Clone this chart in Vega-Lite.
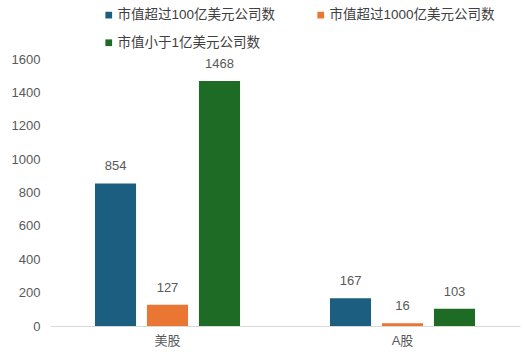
{
  "$schema": "https://vega.github.io/schema/vega-lite/v6.json",
  "width": 470,
  "height": 267,
  "autosize": {"type": "none"},
  "padding": {"left": 50, "top": 59, "right": 3, "bottom": 31},
  "background": "white",
  "config": {
    "view": {"stroke": null},
    "font": "Liberation Sans, Noto Sans CJK SC",
    "text": {"font": "Liberation Sans, Noto Sans CJK SC"}
  },
  "data": {
    "values": [
      {"market": "美股", "series": "市值超过100亿美元公司数", "value": 854},
      {"market": "美股", "series": "市值超过1000亿美元公司数", "value": 127},
      {"market": "美股", "series": "市值小于1亿美元公司数", "value": 1468},
      {"market": "A股", "series": "市值超过100亿美元公司数", "value": 167},
      {"market": "A股", "series": "市值超过1000亿美元公司数", "value": 16},
      {"market": "A股", "series": "市值小于1亿美元公司数", "value": 103}
    ]
  },
  "encoding": {
    "x": {
      "field": "market", "type": "nominal", "sort": ["美股", "A股"],
      "scale": {"paddingInner": 0, "paddingOuter": 0},
      "axis": {"title": null, "labelAngle": 0, "ticks": false, "domainColor": "#d9d9d9", "domainWidth": 1, "labelColor": "#595959", "labelFontSize": 13, "labelPadding": 8}
    },
    "xOffset": {
      "field": "series", "type": "nominal",
      "sort": ["市值超过100亿美元公司数", "市值超过1000亿美元公司数", "市值小于1亿美元公司数"],
      "scale": {"paddingInner": 0.21, "paddingOuter": 0.865}
    },
    "y": {
      "field": "value", "type": "quantitative",
      "scale": {"domain": [0, 1600]},
      "axis": {"title": null, "format": "d", "values": [0,200,400,600,800,1000,1200,1400,1600], "grid": false, "domain": false, "ticks": false, "labelColor": "#595959", "labelFontSize": 13, "labelPadding": 10}
    }
  },
  "layer": [
    {
      "mark": {"type": "bar"},
      "encoding": {
        "color": {
          "field": "series", "type": "nominal",
          "scale": {"domain": ["市值超过100亿美元公司数", "市值超过1000亿美元公司数", "市值小于1亿美元公司数"], "range": ["#1b5e80", "#ea7633", "#1e6b26"]},
          "legend": {
            "title": null, "orient": "none", "legendX": 52, "legendY": -51,
            "direction": "horizontal",
            "columns": 2, "columnPadding": 38, "rowPadding": 13,
            "symbolType": "square", "symbolSize": 45, "symbolOffset": 0,
            "labelFontSize": 13.5, "labelColor": "#404040", "labelOffset": 2, "labelLimit": 400
          }
        }
      }
    },
    {
      "mark": {"type": "text", "dy": -10, "color": "#595959", "fontSize": 13, "baseline": "bottom"},
      "encoding": {"text": {"field": "value", "type": "quantitative"}}
    }
  ]
}
